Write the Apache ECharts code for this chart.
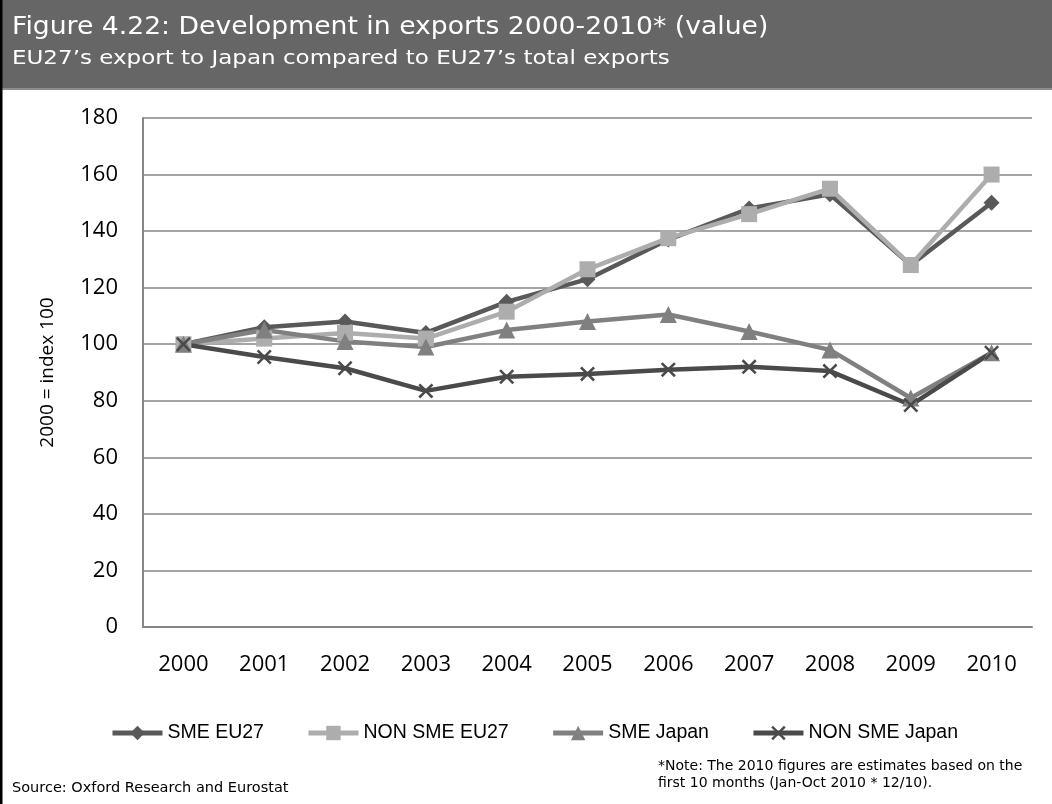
<!DOCTYPE html>
<html>
<head>
<meta charset="utf-8">
<script src="https://cdn.jsdelivr.net/npm/echarts@6/dist/echarts.min.js"></script>
<style>
  html, body { margin: 0; padding: 0; background: #fff; }
  #chart { width: 1052px; height: 804px; }
</style>
</head>
<body>
<div id="chart"></div>
<script>
var years = ['2000', '2001', '2002', '2003', '2004', '2005', '2006', '2007', '2008', '2009', '2010'];
var smeEU27 = [100, 106, 108, 104, 115, 123, 137, 148, 153, 128, 150];
var nonSmeEU27 = [100, 102, 104, 102, 111.5, 126.5, 137.5, 146, 155, 128, 160];
var smeJapan = [100, 105, 101, 99, 105, 108, 110.5, 104.5, 98, 81, 97];
var nonSmeJapan = [100, 95.5, 91.5, 83.5, 88.5, 89.5, 91, 92, 90.5, 78.5, 97];

// filled "x" marker
var crossPath = 'path://M0,1.2L1.2,0L5,3.8L8.8,0L10,1.2L6.2,5L10,8.8L8.8,10L5,6.2L1.2,10L0,8.8L3.8,5Z';

var chart = echarts.init(document.getElementById('chart'));

function makeSeries(name, data, color, symbol, size){
	return {
		name: name,
		type: 'line',
		data: data,
		symbol: symbol,
		symbolSize: size,
		showAllSymbol: true,
		lineStyle: { color: color, width: 4.5 },
		itemStyle: { color: color },
		emphasis: { disabled: true },
		z: 3
	};
}

var option = {
	backgroundColor: '#fff',
	animation: false,
	graphic: [
		{ type: 'rect', shape: { x: 0, y: 0, width: 1052, height: 89 }, style: { fill: '#666666' }, z: -10 },
		{ type: 'rect', shape: { x: 0, y: 88, width: 1052, height: 2 }, style: { fill: '#8e8e8e' }, z: -9 },
		{ type: 'rect', shape: { x: 0, y: 0, width: 2.5, height: 804 }, style: { fill: '#000' }, z: 10 },
		{
			type: 'text', x: 12, y: 28, scaleX: 1.11,
			style: { text: 'Figure 4.22: Development in exports 2000-2010* (value)', fill: '#fff',
				font: '24px "DejaVu Sans"', verticalAlign: 'middle' }
		},
		{
			type: 'text', x: 12, y: 59, scaleX: 1.15,
			style: { text: 'EU27\u2019s export to Japan compared to EU27\u2019s total exports', fill: '#fff',
				font: '20px "DejaVu Sans"', verticalAlign: 'middle' }
		},
		{
			type: 'text', x: 12, y: 788,
			style: { text: 'Source: Oxford Research and Eurostat', fill: '#000',
				font: '14.5px "DejaVu Sans"', verticalAlign: 'middle' }
		},
		{
			type: 'text', x: 658, y: 758,
			style: {
				text: '*Note: The 2010 figures are estimates based on the\nfirst 10 months (Jan-Oct 2010 * 12/10).',
				fill: '#000', font: '14px "DejaVu Sans"', lineHeight: 17, verticalAlign: 'top'
			}
		}
	],
	legend: {
		top: 718,
		left: 105,
		itemWidth: 50,
		itemHeight: 18,
		itemGap: 42,
		lineStyle: { width: 5 },
		textStyle: { color: '#000', fontFamily: 'Liberation Sans', fontSize: 19.5 },
		data: ['SME EU27', 'NON SME EU27', 'SME Japan', 'NON SME Japan']
	},
	grid: { left: 143, right: 20, top: 118, bottom: 177 },
	xAxis: {
		type: 'category',
		data: years,
		boundaryGap: true,
		axisLine: { lineStyle: { color: '#868686', width: 2 } },
		axisTick: { show: false },
		axisLabel: { color: '#000', fontFamily: 'Open Sans', fontSize: 22, margin: 27 }
	},
	yAxis: {
		type: 'value',
		min: 0, max: 180, interval: 20,
		name: '2000 = index 100',
		nameLocation: 'middle',
		nameGap: 86,
		nameTextStyle: { color: '#000', fontFamily: 'Open Sans', fontSize: 19 },
		axisLine: { show: true, lineStyle: { color: '#868686', width: 2 } },
		axisTick: { show: false },
		splitLine: { lineStyle: { color: '#868686', width: 1.5 } },
		axisLabel: { color: '#000', fontFamily: 'Open Sans', fontSize: 22, margin: 25 }
	},
	series: [
		makeSeries('SME EU27', smeEU27, '#595959', 'diamond', 16),
		makeSeries('NON SME EU27', nonSmeEU27, '#adadad', 'rect', 16),
		makeSeries('SME Japan', smeJapan, '#808080', 'triangle', 17),
		makeSeries('NON SME Japan', nonSmeJapan, '#4a4a4a', crossPath, 15)
	]
};

chart.setOption(option);
</script>
</body>
</html>
